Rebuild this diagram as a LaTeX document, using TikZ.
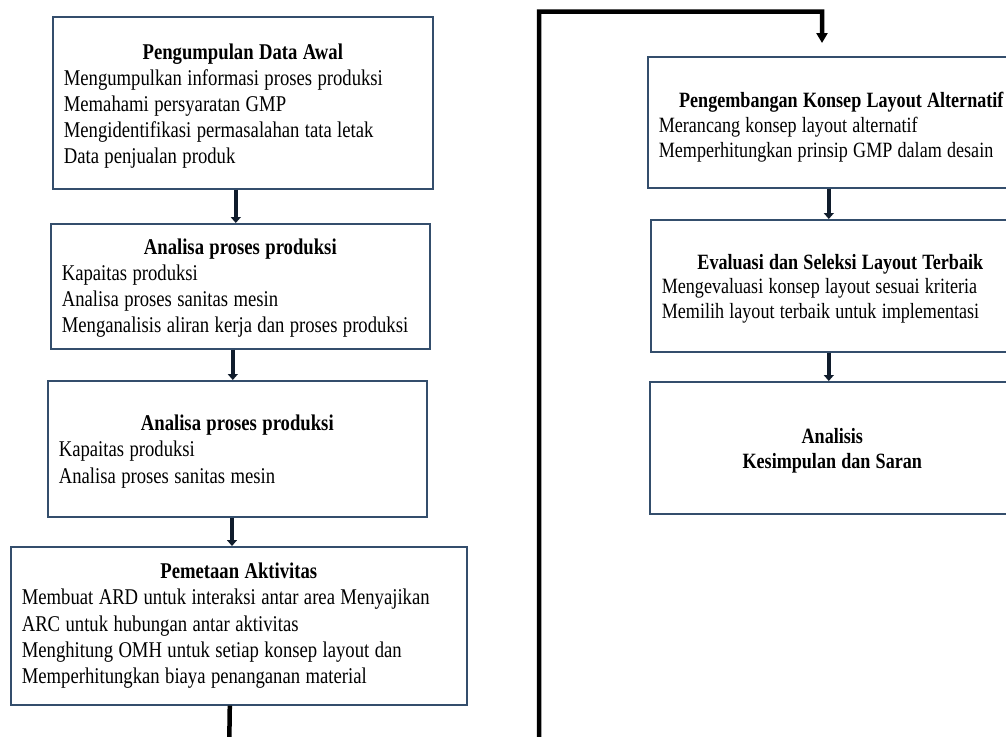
\documentclass[tikz,border=0pt]{standalone}
\usepackage{fontspec}
\setmainfont{Liberation Serif}[FakeStretch=0.83]
\usetikzlibrary{arrows.meta}
\setlength{\parindent}{0pt}

\definecolor{boxblue}{RGB}{52,78,108}
\definecolor{flowink}{RGB}{16,28,44}

% tighter word spacing than the ragged alignment of nodes gives
\newcommand\tightspaces{\spaceskip=0.24em plus 0.05em minus 0.02em\relax}
% a stage: centred bold heading (with an optional strut height), then left-aligned lines
\newcommand\stagetext[3][21pt]{\tightspaces\centerline{\rule{0pt}{#1}\bfseries #2}\\#3}

\begin{document}
\begin{tikzpicture}[x=1pt, y=-1pt,
  stagebox/.style={draw=boxblue, line width=1.6pt, rectangle, anchor=north west,
    inner xsep=11pt, inner ysep=0pt, align=left,
    font=\fontsize{22.5}{26.2}\selectfont},
  stageboxr/.style={stagebox, font=\fontsize{21.8}{24.8}\selectfont},
  flowarrow/.style={draw=flowink, line width=3.5pt,
    -{Triangle[width=10pt,length=6pt]}},
  backloop/.style={draw=black, line width=4.5pt, line join=miter,
    -{Triangle[width=11pt,length=10pt]}}]

  \useasboundingbox (0,0) rectangle (1006,736);
  \fill[white] (0,0) rectangle (1006,736);
  \clip (0,0) rectangle (1006,736);

  % left column
  \node[stagebox, text width=358pt, minimum height=172pt] (b1) at (52,16)
    {\stagetext[22pt]{Pengumpulan Data Awal}{Mengumpulkan informasi proses produksi\\
      Memahami persyaratan GMP\\
      Mengidentifikasi permasalahan tata letak\\
      Data penjualan produk}};
  \node[stagebox, text width=357pt, minimum height=125pt] (b2) at (50,223)
    {\stagetext[19pt]{Analisa proses produksi}{Kapaitas produksi\\
      Analisa proses sanitas mesin\\
      Menganalisis aliran kerja dan proses produksi}};
  \node[stagebox, text width=357pt, minimum height=136pt] (b3) at (47,380)
    {\stagetext[21pt]{Analisa proses produksi}{Kapaitas produksi\\
      Analisa proses sanitas mesin}};
  \node[stagebox, text width=434pt, minimum height=158pt] (b4) at (10,546)
    {\stagetext[15pt]{Pemetaan Aktivitas}{Membuat ARD untuk interaksi antar area Menyajikan\\
      ARC untuk hubungan antar aktivitas\\
      Menghitung OMH untuk setiap konsep layout dan\\
      Memperhitungkan biaya penanganan material}};

  % right column
  \node[stageboxr, text width=365pt, minimum height=131pt] (b5) at (647,56)
    {\stagetext[25pt]{Pengembangan Konsep Layout Alternatif}{Merancang konsep layout alternatif\\
      Memperhitungkan prinsip GMP dalam desain}};
  \node[stageboxr, text width=357pt, minimum height=132pt] (b6) at (650,219)
    {\stagetext[21pt]{Evaluasi dan Seleksi Layout Terbaik}{Mengevaluasi konsep layout sesuai kriteria\\
      Memilih layout terbaik untuk implementasi}};
  \node[stageboxr, text width=343pt, minimum height=132pt] (b7) at (649,381)
    {\tightspaces\centerline{\rule{0pt}{21pt}\bfseries Analisis}\\
      \centerline{\bfseries Kesimpulan dan Saran}};

  % arrows between stages
  \draw[flowarrow] ([xshift=-7pt]b1.south) -- ([xshift=-7pt]b1.south |- b2.north);
  \draw[flowarrow] ([xshift=-7.5pt]b2.south) -- ([xshift=-7.5pt]b2.south |- b3.north);
  \draw[flowarrow] ([xshift=-5.3pt]b3.south) -- ([xshift=-5.3pt]b3.south |- b4.north);
  \draw[flowarrow] ([xshift=-12.5pt]b5.south) -- ([xshift=-12.5pt]b5.south |- b6.north);
  \draw[flowarrow] ([xshift=-11.5pt]b6.south) -- ([xshift=-11.5pt]b6.south |- b7.north);

  % return line from the last left stage to the top of the right column
  \coordinate (loopdown) at (229,760);
  \coordinate (loopup) at (539,11.5);
  \coordinate (looptip) at (822,43);
  \draw[backloop] ([xshift=-9pt]b4.south) -- (loopdown) -| (loopup) -| (looptip);
\end{tikzpicture}
\end{document}
